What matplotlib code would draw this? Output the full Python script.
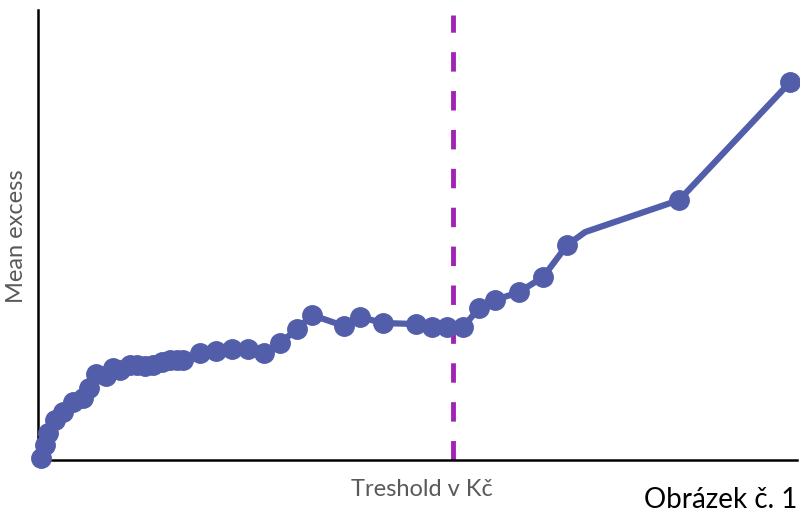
import matplotlib.pyplot as plt

plt.rcParams['font.family'] = ['Lato', 'DejaVu Sans']

# threshold and mean excess (arbitrary units)
threshold = [41, 45, 48, 55, 63, 73, 83, 89, 96, 106, 113, 120, 130, 137, 145, 153,
             162, 170, 177, 183, 200, 216, 232, 248, 264, 280, 297, 312, 344, 360,
             383, 416, 432, 447, 463, 479, 495, 519, 543, 567, 585, 679, 790]
mean_excess = [2, 15, 27, 40, 48, 58, 62, 72, 86, 84, 92, 90, 95, 95, 94, 95,
               98, 100, 100, 100, 107, 109, 111, 111, 107, 117, 131, 145, 134, 143,
               137, 136, 133, 133, 133, 152, 160, 168, 183, 215, 228, 260, 378]
# the bend at 585 has no marker
marked = [i for i in range(len(threshold)) if i != 40]
cutoff = 453

line_color = '#535EAB'
cut_color = '#A024B4'

fig = plt.figure(figsize=(8, 5.13), dpi=100)
ax = fig.add_axes([0.0475, 0.1033, 0.949, 0.877])

ax.plot(threshold, mean_excess, color=line_color, lw=4.5, marker='o', ms=14,
        markevery=marked, solid_capstyle='round', clip_on=False, zorder=3)
ax.axvline(cutoff, ymax=0.99, color=cut_color, lw=3.5, dashes=(4, 4), zorder=2)

ax.set_xlim(38, 797)
ax.set_ylim(0, 450)
ax.set_xticks([])
ax.set_yticks([])
for side in ['top', 'right']:
    ax.spines[side].set_visible(False)
for side in ['left', 'bottom']:
    ax.spines[side].set_linewidth(1.8)

fig.text(0.527, 0.045, 'Treshold v Kč', color='#595959', fontsize=17, ha='center', va='center')
fig.text(0.021, 0.54, 'Mean excess', color='#595959', fontsize=17, ha='center', va='center',
         rotation=90)
fig.text(0.997, 0.025, 'Obrázek č. 1', color='black', fontsize=20, ha='right', va='center')

fig.savefig('out.png', dpi=100)
